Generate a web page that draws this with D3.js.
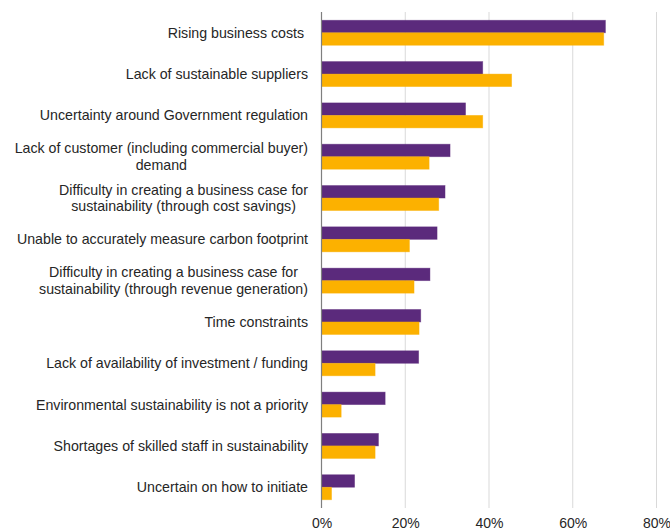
<!DOCTYPE html>
<html><head><meta charset="utf-8">
<script src="https://cdn.jsdelivr.net/npm/d3@7"></script>
<style>body{margin:0;background:#fff;} text{font-family:"Liberation Sans",Arial,sans-serif;}</style>
</head><body>
<svg id="chart" width="670" height="530"></svg>
<script>
const categories = [
  ["Rising business costs "],
  ["Lack of sustainable suppliers"],
  ["Uncertainty around Government regulation"],
  ["Lack of customer (including commercial buyer)", "demand"],
  ["Difficulty in creating a business case for", "sustainability (through cost savings)"],
  ["Unable to accurately measure carbon footprint"],
  ["Difficulty in creating a business case for", "sustainability (through revenue generation)"],
  ["Time constraints"],
  ["Lack of availability of investment / funding"],
  ["Environmental sustainability is not a priority"],
  ["Shortages of skilled staff in sustainability"],
  ["Uncertain on how to initiate"]
];
const seriesA = [67.8, 38.5, 34.4, 30.7, 29.5, 27.6, 25.9, 23.7, 23.2, 15.2, 13.6, 7.9];
const seriesB = [67.4, 45.4, 38.5, 25.7, 28.0, 21.0, 22.1, 23.3, 12.8, 4.7, 12.8, 2.4];
const tickValues = [0, 20, 40, 60, 80];
const colors = ["#5B2A7C", "#FCB100"];

const svg = d3.select("#chart");
const mLeft = 321.5, mRight = 656.5, mTop = 12, mBottom = 508;
const x = d3.scaleLinear().domain([0, 80]).range([mLeft, mRight]);
const idx = categories.map((d, i) => i);
const y = d3.scaleBand().domain(idx).range([mTop, mBottom]).paddingInner(0.395).paddingOuter(0.2);
const y1 = d3.scaleBand().domain([0, 1]).range([0, y.bandwidth()]);

// gridlines
svg.append("g").selectAll("line").data(tickValues.slice(1)).join("line")
  .attr("x1", d => x(d)).attr("x2", d => x(d))
  .attr("y1", mTop).attr("y2", mBottom)
  .attr("stroke", "#d9d9d9").attr("stroke-width", 1);

// bars
const g = svg.append("g");
idx.forEach(i => {
  [seriesA[i], seriesB[i]].forEach((v, s) => {
    g.append("rect")
      .attr("x", x(0)).attr("y", y(i) + y1(s))
      .attr("width", x(v) - x(0)).attr("height", y1.bandwidth())
      .attr("fill", colors[s])
      .attr("stroke", colors[s]).attr("stroke-opacity", 0.5).attr("stroke-width", 0.8);
  });
});

// axis line at 0
svg.append("line").attr("x1", x(0)).attr("x2", x(0)).attr("y1", mTop).attr("y2", mBottom)
  .attr("stroke", "#7f7f7f").attr("stroke-width", 1.2);

// x tick labels
const xAxis = d3.axisBottom(x).tickValues(tickValues).tickFormat(d => d + "%").tickSize(0);
const ax = svg.append("g").attr("transform", `translate(0,${mBottom + 7})`).call(xAxis);
ax.select(".domain").remove();
ax.selectAll("text").attr("font-size", 14).attr("fill", "#262626")
  .style("font-family", '"Liberation Sans",Arial,sans-serif');

// category labels
const labelRight = 308;
const lh = 16.5;
idx.forEach(i => {
  const lines = categories[i];
  const cy = y(i) + y.bandwidth() / 2;
  const t = svg.append("text").attr("font-size", 14.2).attr("fill", "#262626")
    .style("white-space", "pre");
  const tspans = lines.map((ln, k) => t.append("tspan").text(ln));
  let maxW = 0;
  tspans.forEach(ts => { maxW = Math.max(maxW, ts.node().getComputedTextLength()); });
  const cx = labelRight - maxW / 2;
  const y0 = cy - (lines.length - 1) * lh / 2 + 5;
  tspans.forEach((ts, k) => ts.attr("x", cx).attr("y", y0 + k * lh).attr("text-anchor", "middle"));
});
</script>
</body></html>
